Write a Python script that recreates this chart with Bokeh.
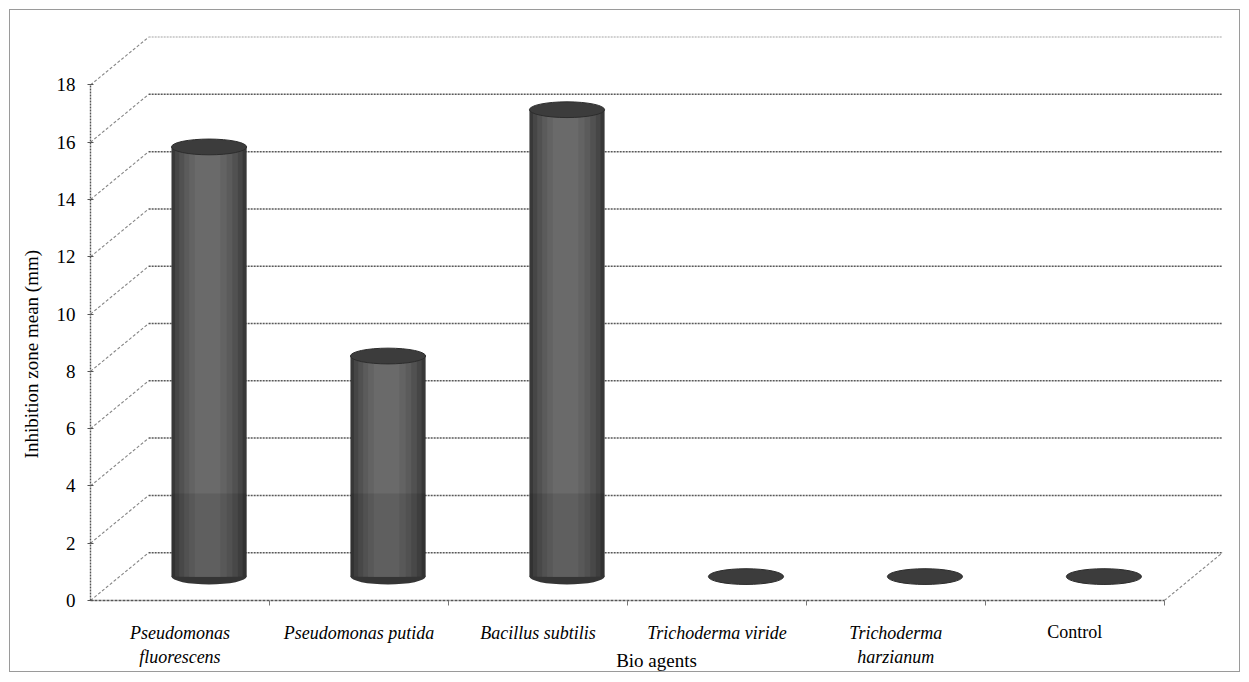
import math
from bokeh.plotting import figure
from bokeh.models import FixedTicker, Label
from bokeh.embed import file_html
from bokeh.resources import INLINE

# ---------------- data ----------------
categories = ["Pseudomonas fluorescens", "Pseudomonas putida", "Bacillus subtilis",
              "Trichoderma viride", "Trichoderma harzianum", "Control"]
tick_labels = ["Pseudomonas\nfluorescens", "Pseudomonas putida", "Bacillus subtilis",
               "Trichoderma viride", "Trichoderma\nharzianum", ""]
values = [15.0, 7.7, 16.3, 0.0, 0.0, 0.0]
y_ticks = [0, 2, 4, 6, 8, 10, 12, 14, 16, 18]
y_title = "Inhibition zone mean (mm)"
x_title = "Bio agents"

# ---------------- style constants ----------------
DX = 0.325      # 3-D depth offset (category units)
DY = 1.67       # 3-D depth offset (value units)
BAR_W = 0.42
CAP_H = 0.55
FONT = "Liberation Serif"
GRID = "#505050"

n = len(categories)
centers = [i + 0.5 for i in range(n)]

p = figure(width=1231, height=663, x_range=(0, n + DX), y_range=(0, 19.9),
           output_backend="svg", toolbar_location=None,
           min_border_left=80, min_border_right=19, min_border_top=20, min_border_bottom=72)
p.styles = {"border": "1px solid #9a9a9a", "margin": "9px 0 0 9px"}
p.outline_line_color = None
p.xgrid.visible = False
p.ygrid.visible = False
p.background_fill_color = "white"

# ---------------- 3-D walls ----------------
bx0 = [DX for _ in y_ticks]
bx1 = [n + DX for _ in y_ticks]
by = [v + DY for v in y_ticks]
alphas = [0.35 if v == y_ticks[-1] else 0.95 for v in y_ticks]
p.segment(x0=bx0, y0=by, x1=bx1, y1=by, line_color=GRID, line_width=1.5,
          line_dash="2 1", line_alpha=alphas)
p.segment(x0=[0 for _ in y_ticks], y0=y_ticks, x1=bx0, y1=by, line_color="#707070",
          line_width=1.1, line_dash="3 2", line_alpha=0.85)
p.segment(x0=[n], y0=[0], x1=[n + DX], y1=[DY], line_color="#707070", line_width=1.1,
          line_dash="3 2", line_alpha=0.85)

# ---------------- cylinders ----------------
xc = [c + DX / 2 for c in centers]
base = DY / 2
nz = [i for i in range(n) if values[i] > 0]
shades = [("#383838", 1.0), ("#464646", 0.9), ("#515151", 0.78), ("#5b5b5b", 0.64),
          ("#636363", 0.5), ("#6a6a6a", 0.34)]

p.ellipse(x=[xc[i] for i in nz], y=[base for _ in nz], width=BAR_W, height=CAP_H,
          fill_color="#353535", line_color=None)
for col, frac in shades:
    w = BAR_W * frac
    off = -0.03 * BAR_W * (1 - frac)
    p.quad(left=[xc[i] + off - w / 2 for i in nz], right=[xc[i] + off + w / 2 for i in nz],
           bottom=[base for _ in nz], top=[values[i] + base for i in nz],
           fill_color=col, line_color=None)
p.quad(left=[xc[i] - BAR_W / 2 for i in nz], right=[xc[i] + BAR_W / 2 for i in nz],
       bottom=[base for _ in nz], top=[min(2.9, values[i]) + base for i in nz],
       fill_color="black", fill_alpha=0.1, line_color=None)
p.ellipse(x=xc, y=[v + base for v in values], width=BAR_W, height=CAP_H,
          fill_color="#3c3c3c", line_color="#2c2c2c", line_width=1)

# ---------------- axes ----------------
yax = p.yaxis[0]
yax.bounds = (0, 18)
yax.ticker = FixedTicker(ticks=y_ticks, minor_ticks=[])
yax.axis_line_color = "#555555"
yax.axis_line_width = 1.4
yax.axis_line_dash = "2 1"
yax.major_tick_in = 3
yax.major_tick_out = 3
yax.major_tick_line_color = "#555555"
yax.major_label_text_font = FONT
yax.major_label_text_font_size = "19px"
yax.major_label_text_color = "black"
yax.major_label_standoff = 12

xax = p.xaxis[0]
xax.bounds = (0, n)
xax.ticker = FixedTicker(ticks=centers, minor_ticks=[float(i) for i in range(1, n + 1)])
xax.major_tick_in = 0
xax.major_tick_out = 0
xax.minor_tick_in = 0
xax.minor_tick_out = 5
xax.minor_tick_line_color = "#777777"
xax.axis_line_color = "#555555"
xax.axis_line_width = 1.4
xax.axis_line_dash = "3 1"
xax.major_label_overrides = {c: t for c, t in zip(centers, tick_labels)}
xax.major_label_text_font = FONT
xax.major_label_text_font_style = "italic"
xax.major_label_text_font_size = "18px"
xax.major_label_text_color = "black"
xax.major_label_standoff = 17
xax.axis_label = x_title
xax.axis_label_text_font = FONT
xax.axis_label_text_font_style = "normal"
xax.axis_label_text_font_size = "19px"
xax.axis_label_text_color = "black"
xax.axis_label_text_align = "right"
xax.axis_label_standoff = -20

# upright "Control" label; placed in a side panel so it is not clipped to the frame
p.add_layout(Label(x=centers[-1], y=-1.1, text=categories[-1], text_font=FONT,
                   text_font_size="18px", text_align="center", text_baseline="middle",
                   text_color="black"), "above")
# y-axis title, vertical
p.add_layout(Label(x=-0.33, y=8.6, text=y_title, text_font=FONT, angle=math.pi / 2,
                   text_font_size="19px", text_align="center", text_baseline="middle",
                   text_color="black"), "left")

open("out.html", "w").write(file_html(p, INLINE))
